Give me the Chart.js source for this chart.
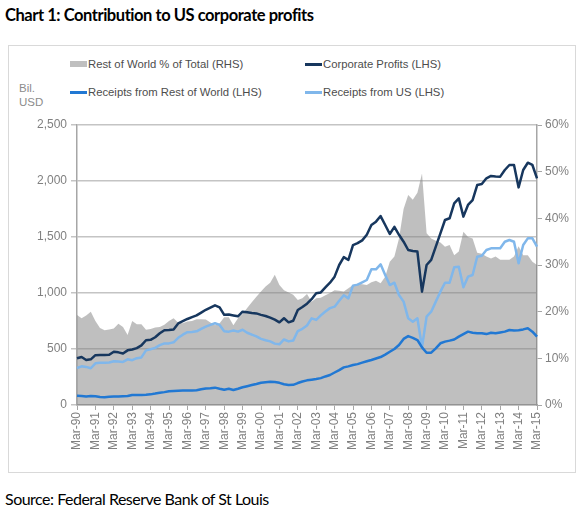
<!DOCTYPE html>
<html>
<head>
<meta charset="utf-8">
<script src="https://cdn.jsdelivr.net/npm/chart.js@4.4.0/dist/chart.umd.min.js"></script>
<style>
  body { margin: 0; width: 580px; height: 517px; background: #fff; position: relative; overflow: hidden; font-family: "Liberation Sans", Arial, sans-serif; }
  #title { position: absolute; left: 5px; top: 5px; font-family: Lato, "Open Sans", sans-serif; font-weight: bold; font-size: 16.5px; letter-spacing: -0.45px; color: #000; white-space: nowrap; }
  #frame { position: absolute; left: 8px; top: 45px; width: 568px; height: 428px; border: 1px solid #d9d9d9; box-sizing: border-box; }
  #unit { position: absolute; left: 19px; top: 81px; font-size: 11.5px; line-height: 14px; color: #8c8c8c; }
  .leg { position: absolute; height: 14px; font-size: 11.3px; line-height: 14px; color: #4d4d4d; white-space: nowrap; }
  .leg i { position: absolute; left: 0; width: 17px; }
  .leg span { position: absolute; left: 18px; top: 0; }
  #chartWrap { position: absolute; left: 8px; top: 110px; width: 567px; height: 362px; }
  #source { position: absolute; left: 5px; top: 489px; font-family: Lato, "Open Sans", sans-serif; font-size: 16px; letter-spacing: -0.5px; color: #000; white-space: nowrap; }
</style>
</head>
<body>
<div id="title">Chart 1: Contribution to US corporate profits</div>
<div id="frame"></div>
<div id="unit">Bil.<br>USD</div>
<div id="legend"></div>
<div id="chartWrap"><canvas id="chart" width="567" height="362"></canvas></div>
<div id="source">Source: Federal Reserve Bank of St Louis</div>
<script>
// quarterly, Mar-90 .. Mar-15
const quarterMonths = ["Mar", "Jun", "Sep", "Dec"];
const firstYear = 1990;
const lastYear = 2015;

// Bil. USD (LHS)
const profits = [
  417, 428, 402, 408, 445, 446, 446, 448, 476, 470,
  460, 488, 496, 508, 532, 578, 582, 605, 640, 668,
  670, 675, 728, 748, 768, 785, 800, 825, 850, 870,
  890, 872, 805, 808, 800, 792, 833, 828, 822, 818,
  805, 795, 780, 762, 738, 775, 738, 752, 848, 875,
  905, 945, 997, 1005, 1050, 1092, 1146, 1250, 1320, 1295,
  1428, 1445, 1470, 1520, 1607, 1637, 1687, 1607, 1527, 1590,
  1520, 1458, 1384, 1375, 1370, 1012, 1250, 1295, 1414, 1533,
  1652, 1667, 1801, 1845, 1682, 1786, 1830, 1964, 1973, 2024,
  2045, 2040, 2039, 2098, 2143, 2143, 1943, 2098, 2163, 2143,
  2024
];
const rowReceipts = [
  83, 80, 76, 80, 78, 72, 70, 74, 75, 76,
  78, 80, 90, 90, 90, 92, 95, 102, 110, 115,
  122, 125, 128, 130, 130, 130, 132, 140, 148, 150,
  155, 145, 136, 145, 134, 145, 158, 168, 178, 188,
  199, 204, 208, 205, 198, 185, 178, 180, 196, 210,
  220, 226, 232, 240, 255, 268, 290, 312, 336, 345,
  357, 365, 378, 390, 402, 415, 428, 450, 475, 500,
  536, 590, 615, 600, 580, 515, 467, 467, 506, 551,
  566, 575, 585, 610, 633, 655, 645, 640, 640, 633,
  645, 640, 648, 655, 670, 665, 668, 675, 685, 655,
  610
];
const usReceipts = [
  330, 345, 340, 328, 372, 378, 378, 380, 390, 388,
  385, 408, 400, 418, 425, 488, 498, 510, 535, 550,
  550, 560, 600, 628, 650, 652, 658, 680, 700, 715,
  730, 715, 658, 655, 665, 655, 672, 645, 628, 612,
  590, 578, 568, 548, 542, 585, 568, 575, 660, 680,
  710, 774, 760, 800, 835, 865, 878, 930, 980, 952,
  1066, 1075, 1095, 1116, 1211, 1211, 1256, 1161, 1071, 1092,
  982, 923, 774, 744, 774, 515, 789, 833, 923, 1012,
  1092, 1092, 1229, 1235, 1051, 1146, 1161, 1324, 1333, 1384,
  1399, 1399, 1399, 1458, 1473, 1458, 1265, 1428, 1488, 1488,
  1414
];
// % (RHS)
const rowShare = [
  19.3, 18.6, 19.2, 20.0, 18.0, 16.5, 16.0, 16.2, 16.4, 17.4,
  16.7, 15.0, 18.0, 17.3, 17.3, 16.1, 16.3, 16.6, 16.7, 17.2,
  18.0, 18.6, 17.6, 17.5, 17.9, 18.0, 18.4, 18.4, 18.3, 17.7,
  17.1, 17.5, 18.8, 18.8, 17.1, 18.6, 19.5, 20.8, 22.0, 23.2,
  24.3, 25.4, 26.2, 27.9, 25.7, 24.6, 24.1, 23.6, 22.5, 22.9,
  23.8, 22.1, 22.9, 23.0, 23.5, 24.0, 24.6, 24.5, 24.3, 25.0,
  25.7, 26.0, 25.9, 25.7, 26.3, 26.6, 26.1, 27.5, 30.7, 31.8,
  35.7, 42.0, 45.0, 44.0, 45.5, 49.6, 36.8, 35.7, 35.2, 34.8,
  33.9, 34.3, 32.1, 32.9, 37.1, 36.0, 35.7, 32.6, 32.4, 31.8,
  31.4, 31.8, 31.1, 31.1, 31.1, 31.8, 34.0, 32.1, 32.1, 30.7,
  30.0
];

const labels = [];
for (let y = firstYear; y <= lastYear; y++) {
  quarterMonths.forEach((m, q) => {
    if (y === lastYear && q > 0) return;
    labels.push(`${m}-${String(y % 100).padStart(2, "0")}`);
  });
}

const tickFont = { family: "'Liberation Sans', Arial, sans-serif", size: 12 };
const tickColor = "#808080";
const axisColor = "#a6a6a6";

const datasets = [
  {
    label: "Rest of World % of Total (RHS)",
    data: rowShare,
    yAxisID: "y1",
    fill: "origin",
    backgroundColor: "rgba(128,128,128,0.5)",
    borderWidth: 0,
    pointRadius: 0,
    order: 4,
  },
  {
    label: "Corporate Profits (LHS)",
    data: profits,
    yAxisID: "y",
    borderColor: "#17375e",
    borderWidth: 2.5,
    pointRadius: 0,
    fill: false,
    order: 1,
  },
  {
    label: "Receipts from Rest of World (LHS)",
    data: rowReceipts,
    yAxisID: "y",
    borderColor: "#2178d3",
    borderWidth: 2.5,
    pointRadius: 0,
    fill: false,
    order: 2,
  },
  {
    label: "Receipts from US (LHS)",
    data: usReceipts,
    yAxisID: "y",
    borderColor: "#80b7eb",
    borderWidth: 2.5,
    pointRadius: 0,
    fill: false,
    order: 3,
  },
];

// legend laid out as 2 x 2 like the original
const legendPos = [
  [70, 57], [305, 57],
  [70, 85], [305, 85],
];
const legendEl = document.getElementById("legend");
datasets.forEach((ds, i) => {
  const item = document.createElement("div");
  item.className = "leg";
  item.style.left = legendPos[i][0] + "px";
  item.style.top = legendPos[i][1] + "px";
  const sw = document.createElement("i");
  if (ds.fill) {
    sw.style.top = "4px";
    sw.style.height = "6px";
    sw.style.background = "#bfbfbf";
  } else {
    sw.style.top = "6px";
    sw.style.height = "2.5px";
    sw.style.background = ds.borderColor;
  }
  const txt = document.createElement("span");
  txt.textContent = ds.label;
  item.appendChild(sw);
  item.appendChild(txt);
  legendEl.appendChild(item);
});

const ctx = document.getElementById("chart").getContext("2d");
new Chart(ctx, {
  type: "line",
  data: { labels, datasets },
  options: {
    responsive: false,
    animation: false,
    layout: { padding: { top: 15 } },
    plugins: {
      legend: { display: false },
      tooltip: { enabled: false },
    },
    elements: { line: { tension: 0, borderJoinStyle: "round" } },
    scales: {
      x: {
        offset: false,
        grid: {
          drawOnChartArea: false,
          drawTicks: true,
          tickLength: 5,
          color: (c) => (c.index % 4 === 0 ? axisColor : "rgba(0,0,0,0)"),
        },
        border: { display: true, color: axisColor, width: 1.5 },
        ticks: {
          autoSkip: false,
          minRotation: 90,
          maxRotation: 90,
          padding: 2,
          color: tickColor,
          font: tickFont,
          callback: function (v, i) {
            return i % 4 === 0 ? this.getLabelForValue(v) : "";
          },
        },
        afterFit: (s) => { s.height = 67; },
      },
      y: {
        position: "left",
        min: 0,
        max: 2500,
        ticks: { stepSize: 500, padding: 4, color: tickColor, font: tickFont },
        grid: { color: "#c4c4c4", lineWidth: 1.5, tickLength: 6 },
        border: { display: true, color: axisColor, width: 1.5 },
        afterFit: (s) => { s.width = 69; },
      },
      y1: {
        position: "right",
        min: 0,
        max: 60,
        ticks: {
          stepSize: 10,
          padding: 3,
          color: tickColor,
          font: tickFont,
          callback: (v) => v + "%",
        },
        grid: { drawOnChartArea: false, tickLength: 5, color: axisColor },
        border: { display: true, color: axisColor, width: 1.5 },
        afterFit: (s) => { s.width = 38; },
      },
    },
  },
});
</script>
</body>
</html>
